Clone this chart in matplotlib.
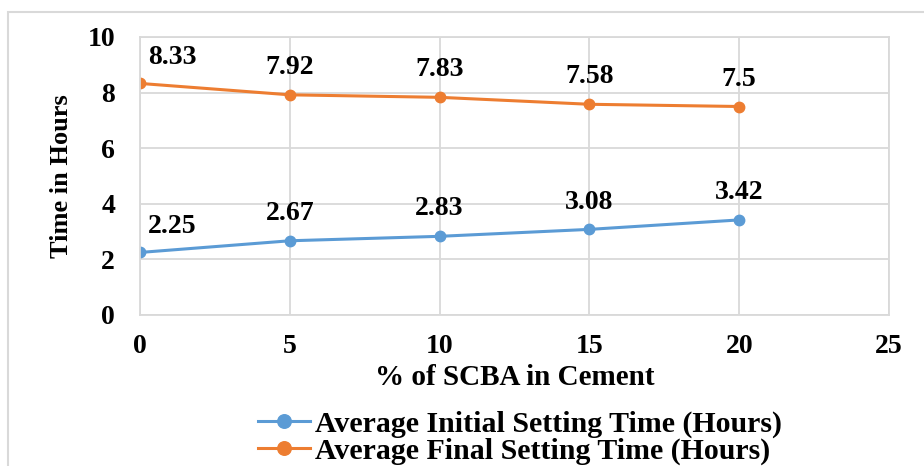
import matplotlib.pyplot as plt
from matplotlib.patches import Rectangle

scba = [0, 5, 10, 15, 20]
initial = [2.25, 2.67, 2.83, 3.08, 3.42]
final = [8.33, 7.92, 7.83, 7.58, 7.5]
initial_lbl = ['2.25', '2.67', '2.83', '3.08', '3.42']
final_lbl = ['8.33', '7.92', '7.83', '7.58', '7.5']

plt.rcParams['font.family'] = ['Liberation Serif', 'DejaVu Serif']
plt.rcParams['font.weight'] = 'bold'

fig = plt.figure(figsize=(9.24, 4.66), dpi=100)
# outer chart border (runs off the right and bottom edges)
fig.patches.append(Rectangle((8 / 924, -0.1), 1.0, 1.1 - 12 / 466, transform=fig.transFigure,
                             fill=False, edgecolor='#d9d9d9', linewidth=1.5))
ax = fig.add_axes([140 / 924, 1 - 315 / 466, 749 / 924, 278 / 466])

blue = '#5b9bd5'
orange = '#ed7d31'
l1, = ax.plot(scba, initial, color=blue, lw=2.2, marker='o', ms=7.5, label='Average Initial Setting Time (Hours)')
l2, = ax.plot(scba, final, color=orange, lw=2.2, marker='o', ms=7.5, label='Average Final Setting Time (Hours)')

for xs, ys, labels in [(scba, initial, initial_lbl), (scba, final, final_lbl)]:
    for x, y, t in zip(xs, ys, labels):
        if x == 0:
            ax.annotate(t, (x, y), xytext=(6, 14), textcoords='offset points', ha='left', va='baseline', fontsize=20)
        else:
            ax.annotate(t, (x, y), xytext=(0, 15), textcoords='offset points', ha='center', va='baseline', fontsize=20)

ax.set_xlim(0, 25)
ax.set_ylim(0, 10)
ax.set_xticks([0, 5, 10, 15, 20, 25])
ax.set_yticks([0, 2, 4, 6, 8, 10])
ax.grid(True, color='#d9d9d9', lw=1.3)
ax.set_axisbelow(True)
for s in ax.spines.values():
    s.set_color('#d9d9d9')
    s.set_linewidth(1.3)
ax.tick_params(length=0, labelsize=20)
ax.tick_params(axis='y', pad=18)
ax.tick_params(axis='x', pad=14)
ax.set_xlabel('% of SCBA in Cement', fontsize=21, fontweight='bold', labelpad=3)
ax.set_ylabel('Time in Hours', fontsize=19, fontweight='bold', labelpad=10)

fig.legend(handles=[l1, l2], loc='lower left', bbox_to_anchor=(240 / 924, -0.036), frameon=False,
           fontsize=21.5, handlelength=1.75, labelspacing=0.0, borderaxespad=0.2, handletextpad=0.15,
           markerscale=1.3)

plt.savefig('out.png', dpi=100)
